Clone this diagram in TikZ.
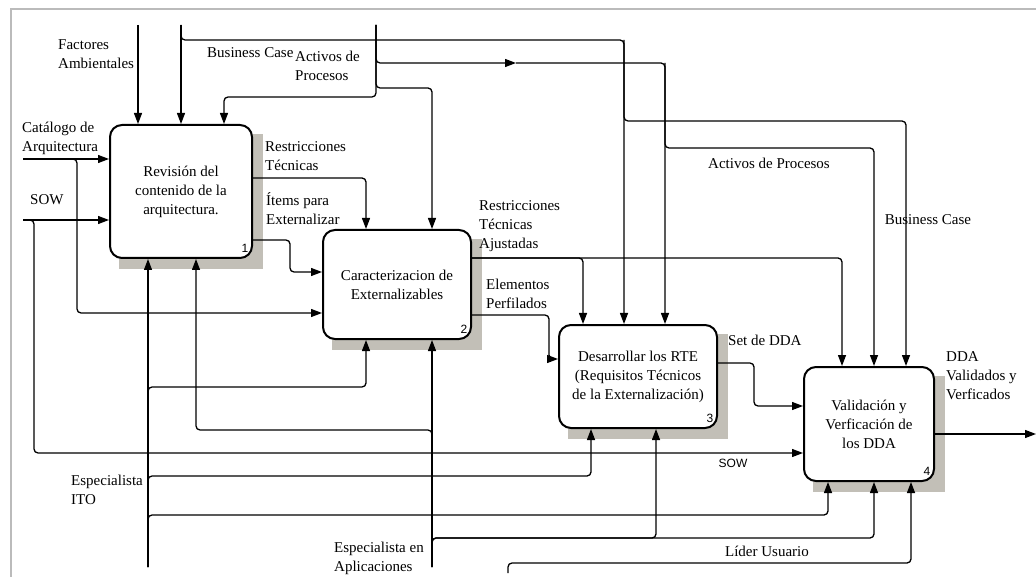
\documentclass[tikz,border=0pt]{standalone}
\usepackage{fontspec}
\setmainfont{Liberation Serif}
\setsansfont{Liberation Sans}
\usepackage{tikz}
\usetikzlibrary{arrows.meta,positioning,calc,backgrounds}
\tikzset{
  idefarrow/.style={-{Triangle[length=11pt,width=8pt]}, line width=1.3pt,
    draw=black, rounded corners=4pt},
  arrowlabel/.style={align=left, inner sep=0pt},
  boxnum/.style={font=\sffamily\fontsize{12}{12}\selectfont, inner sep=0pt}
}
\definecolor{ShadowGray}{HTML}{C2BFB7}
\definecolor{FrameGray}{HTML}{BBBBBB}

\begin{document}
\begin{tikzpicture}[
  x=1pt, y=-1pt,
  font=\fontsize{15}{19}\selectfont,
  actbox/.style={draw, line width=2pt, rounded corners=12pt, fill=white, align=center, inner sep=0pt},
  shadowbox/.style={fill=ShadowGray}
]
\useasboundingbox (0,0) rectangle (1036,577);
\draw[FrameGray, line width=1.5pt] (11,577) -- (11,9) -- (1036,9);

\node[actbox, minimum width=142pt, minimum height=133pt] at (181,191.5) (b1) {Revisión del\\contenido de la\\arquitectura.};
\node[actbox, minimum width=148pt, minimum height=109pt] at (397,284.5) (b2) {Caracterizacion de\\Externalizables};
\node[actbox, minimum width=158pt, minimum height=103pt] at (638,376.5) (b3) {Desarrollar los RTE\\(Requisitos Técnicos\\de la Externalización)};
\node[actbox, minimum width=130pt, minimum height=114pt] at (869,424) (b4) {Validación y\\Verficación de\\los DDA};
\begin{scope}[on background layer]
\fill[shadowbox] ($(b1.north west)+(10,10)$) rectangle ($(b1.south east)+(10,10)$);
\fill[shadowbox] ($(b2.north west)+(10,10)$) rectangle ($(b2.south east)+(10,10)$);
\fill[shadowbox] ($(b3.north west)+(10,10)$) rectangle ($(b3.south east)+(10,10)$);
\fill[shadowbox] ($(b4.north west)+(10,10)$) rectangle ($(b4.south east)+(10,10)$);
\end{scope}
\node[boxnum] at ($(b1.south east)+(-8,-11)$) (n1) {1};
\node[boxnum] at ($(b2.south east)+(-8,-11)$) (n2) {2};
\node[boxnum] at ($(b3.south east)+(-8,-11)$) (n3) {3};
\node[boxnum] at ($(b4.south east)+(-8,-11)$) (n4) {4};

\coordinate (fa) at (138,25);
\coordinate (bc) at (181,25);
\coordinate (bcA) at (624,40);
\coordinate (bcB) at (906,121);
\coordinate (ap) at (376,25);
\coordinate (apM) at (516,63);
\coordinate (apB) at (665,63);
\coordinate (apD) at (874,148);
\coordinate (apE) at (224,97);
\coordinate (apF) at (432,88);
\coordinate (cat) at (23,159);
\coordinate (catB) at (77,313);
\coordinate (sow) at (23,220);
\coordinate (sowB) at (34,453);
\coordinate (rt) at (366,178);
\coordinate (it) at (290,240);
\coordinate (itB) at (290,272);
\coordinate (ito) at (148,567);
\coordinate (itoA) at (366,387);
\coordinate (itoB) at (591,476);
\coordinate (itoC) at (828,515);
\coordinate (esa) at (432,567);
\coordinate (esaA) at (196,430);
\coordinate (esaB) at (874,538);
\coordinate (esaC) at (656,538);
\coordinate (lu) at (508,573);
\coordinate (luA) at (911,563);
\coordinate (rta) at (583,258);
\coordinate (rtb) at (842,258);
\coordinate (ep) at (549,315);
\coordinate (epB) at (549,359);
\coordinate (sd) at (754,363);
\coordinate (sdB) at (754,406);
\coordinate (dda) at (1036,434);

\draw[idefarrow] (fa) -- (fa |- b1.north);
\draw[idefarrow] (bc) -- (bc |- b1.north);
\draw[idefarrow] (bc) |- (bcA) -- (bcA |- b3.north);
\draw[idefarrow] (bcA) |- (bcB) -- (bcB |- b4.north);
\draw[idefarrow] (ap) |- (apM);
\draw[idefarrow] (apM) -| (apB |- b3.north);
\draw[idefarrow] (apB) |- (apD) -- (apD |- b4.north);
\draw[idefarrow] (ap) |- (apE) -- (apE |- b1.north);
\draw[idefarrow] (ap) |- (apF) -- (apF |- b2.north);
\draw[idefarrow] (cat) -- (cat -| b1.west);
\draw[idefarrow] (cat) -| (catB) -- (catB -| b2.west);
\draw[idefarrow] (sow) -- (sow -| b1.west);
\draw[idefarrow] (sow) -| (sowB) -- (sowB -| b4.west);
\draw[idefarrow] (b1.east |- rt) -| (rt |- b2.north);
\draw[idefarrow] (b1.east |- it) -- (it) -- (itB) -- (itB -| b2.west);
\draw[idefarrow] (ito) -- (ito |- b1.south);
\draw[idefarrow] (ito) |- (itoA) -- (itoA |- b2.south);
\draw[idefarrow] (ito) |- (itoB) -- (itoB |- b3.south);
\draw[idefarrow] (ito) |- (itoC) -- (itoC |- b4.south);
\draw[idefarrow] (esa) -- (esa |- b2.south);
\draw[idefarrow] (esa) |- (esaA) -- (esaA |- b1.south);
\draw[idefarrow] (esa) |- (esaB) -- (esaB |- b4.south);
\draw[idefarrow] (esa) |- (esaC) -- (esaC |- b3.south);
\draw[idefarrow] (lu) |- (luA) -- (luA |- b4.south);
\draw[idefarrow] (b2.east |- rta) -| (rta |- b3.north);
\draw[idefarrow] (b2.east |- rta) -| (rtb |- b4.north);
\draw[idefarrow] (b2.east |- ep) -- (ep) -- (epB) -- (epB -| b3.west);
\draw[idefarrow] (b3.east |- sd) -- (sd) -- (sdB) -- (sdB -| b4.west);
\draw[idefarrow] (b4.east |- dda) -- (dda);

\node[arrowlabel, anchor=west] at (58,54) (lfa) {Factores\\Ambientales};
\node[arrowlabel, anchor=west] at (207,53) (lbc) {Business Case};
\node[arrowlabel, anchor=west] at (295,66) (lap) {Activos de\\Procesos};
\node[arrowlabel, anchor=west] at (22,138) (lcat) {Catálogo de\\Arquitectura};
\node[arrowlabel, anchor=west] at (30,200) (lsow) {SOW};
\node[arrowlabel, anchor=west] at (265,156) (lrt) {Restricciones\\Técnicas};
\node[arrowlabel, anchor=west] at (266,209) (lit) {Ítems para\\Externalizar};
\node[arrowlabel, anchor=west] at (479,226) (lrta) {Restricciones\\Técnicas\\Ajustadas};
\node[arrowlabel, anchor=west] at (486,294) (lep) {Elementos\\Perfilados};
\node[arrowlabel] at (769,163) (lap2) {Activos de Procesos};
\node[arrowlabel] at (928,220) (lbc2) {Business Case};
\node[arrowlabel, anchor=west] at (728,340) (lsd) {Set de DDA};
\node[arrowlabel, anchor=west] at (946,376) (ldda) {DDA\\Validados y\\Verficados};
\node[arrowlabel, font=\sffamily\fontsize{12}{14}\selectfont] at (733,463) (lsow2) {SOW};
\node[arrowlabel] at (767,551) (llu) {Líder Usuario};
\node[arrowlabel, anchor=west] at (71,490) (lito) {Especialista\\ITO};
\node[arrowlabel, anchor=west] at (334,558) (lesa) {Especialista en\\Aplicaciones};
\end{tikzpicture}
\end{document}
